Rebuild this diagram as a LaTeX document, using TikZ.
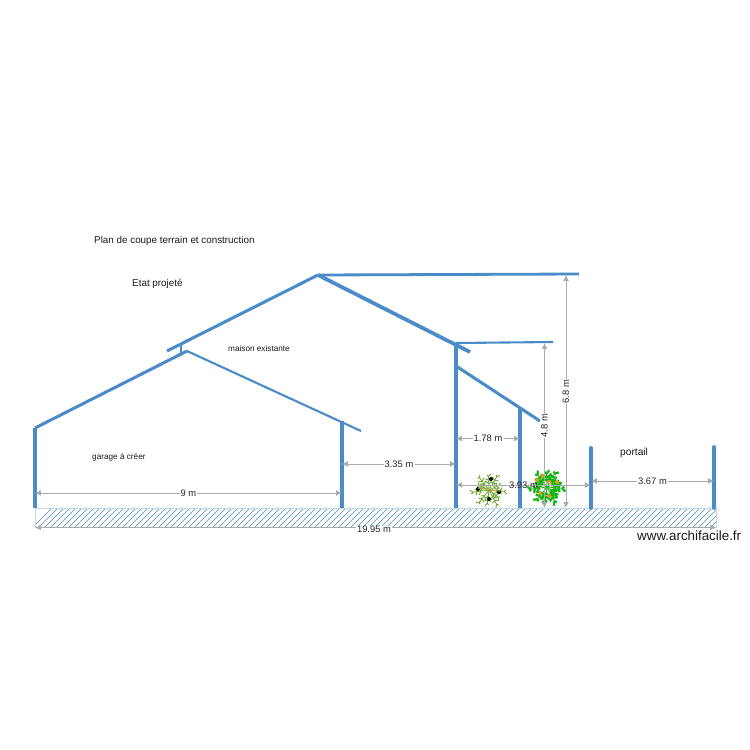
\documentclass[tikz,border=0pt]{standalone}
\usepackage{fontspec}
\setmainfont{Liberation Sans}
\usetikzlibrary{arrows.meta,calc}
\definecolor{wallblue}{HTML}{4A8CC8}
\definecolor{dimgray}{HTML}{ABABAB}
\definecolor{hatchblue}{HTML}{4F8DB5}
\definecolor{leafa}{HTML}{6BA82E}
\definecolor{leafb}{HTML}{14B414}
\definecolor{stema}{HTML}{B8A040}
\definecolor{fruit}{HTML}{E09A20}
\tikzset{
  x=0.03cm,y=-0.03cm,
  wall/.style={draw=wallblue,line width=3.3pt},
  roof/.style={draw=wallblue,line width=2.6pt},
  thickroof/.style={draw=wallblue,line width=3.2pt},
  flatroof/.style={draw=wallblue,line width=2.4pt},
  thinroof/.style={draw=wallblue,line width=1.8pt},
  dimline/.style={draw=dimgray,line width=0.85pt,{Latex[length=5pt,width=5pt]}-{Latex[length=5pt,width=5pt]}},
  dimlabel/.style={fill=white,inner sep=1pt,font=\fontsize{8}{9}\selectfont,text=black!85},
  caption/.style={inner sep=0pt,anchor=west,text=black!90},
}
\newcommand{\plant}[7]{% x, y, leaf colour, leaf width, leaf length, spot colour, spot list
  \begin{scope}[shift={(#1,#2)}]
    \foreach \a/\r in {5/16,38/12,62/17,97/14,128/16,172/17,204/11,232/16,268/14,300/16,335/12}{
      \draw[#3,line width=0.7pt] (0,0) -- (\a:\r);
      \foreach \t/\b/\c in {0.45/50/3,0.7/65/2.4,0.95/40/1}{
        \draw[#3,line width=#4] ($(0,0)+(\a:\t*\r)$) -- ++(\a+\b:#5);
        \draw[#3,line width=#4] ($(0,0)+(\a:\t*\r)$) -- ++(\a-\b:#5*\c/3+1);
      }
    }
    \foreach \p in {#7}{
      \fill[#6] \p circle (2);
    }
  \end{scope}
}
\begin{document}
\begin{tikzpicture}
\useasboundingbox (0,0) rectangle (750,750);
\fill[white] (0,0) rectangle (750,750);

% ground hatch
\begin{scope}
  \clip (35,508) rectangle (716,527);
  \foreach \i in {0,6,...,720}{
    \draw[hatchblue,line width=0.5pt] (30+\i,530) -- (55+\i,505);
  }
\end{scope}
\draw[wallblue!35,line width=0.4pt] (35,508) rectangle (716,527);

% named points
\coordinate (gL) at (35,508);
\coordinate (gLtop) at (35,428);
\coordinate (gApex) at (187,351);
\coordinate (gEave) at (361,431);
\coordinate (gW) at (342,508);
\coordinate (gWtop) at (342,421);
\coordinate (mW) at (456,508);
\coordinate (mWtop) at (456,343);
\coordinate (aW) at (520,508);
\coordinate (aWtop) at (520,409);
\coordinate (aRoofS) at (456,366);
\coordinate (aRoofE) at (540,421);
\coordinate (apex) at (318,275);
\coordinate (mEave) at (470,352);
\coordinate (mLeft) at (167,351);
\coordinate (topR) at (579,274);
\coordinate (midR) at (553,342);
\coordinate (stubT) at (181,343);
\coordinate (stubB) at (181,355);
\coordinate (p1) at (591,508);
\coordinate (p1t) at (591,448);
\coordinate (p2) at (714,508);
\coordinate (p2t) at (714,447);

% structure
\draw[wall] (gL) -- (gLtop);
\draw[roof] (gLtop) -- (gApex);
\draw[thinroof] (gApex) -- (gEave);
\draw[wall] (gW) -- (gWtop);
\draw[wall] (mW) -- (mWtop);
\draw[wall] (aW) -- (aWtop);
\draw[roof] (aRoofS) -- (aRoofE);
\draw[roof] (mLeft) -- (apex);
\draw[thickroof] (apex) -- (mEave);
\draw[flatroof] (apex) -- (topR);
\draw[thinroof] (mWtop) -- (midR);
\draw[flatroof] (stubT) -- (stubB);
\draw[wall,line cap=round] (p1) -- (p1t);
\draw[wall,line cap=round] (p2) -- (p2t);

% plants
\plant{489}{490}{leafa}{0.8pt}{3.5}{black}{(2,-11),(-11,-1),(10,2),(0,9)}
\draw[stema,line width=0.9pt] (478,488) -- (500,491);
\plant{547}{487}{leafb}{1.9pt}{4.5}{fruit}{(-10,-7),(-4,-11),(2,-5),(10,-5),(-7,6),(2,9)}

% dimensions
\draw[dimline] (35,493) -- node[dimlabel]{9 m} (342,493);
\draw[dimline] (342,464) -- node[dimlabel]{3.35 m} (456,464);
\draw[dimline] (456,438.5) -- node[dimlabel]{1.78 m} (520,438.5);
\draw[dimline] (456,485) -- node[dimlabel,fill=none]{3.93 m} (591,485);
\draw[dimline] (591,481) -- node[dimlabel]{3.67 m} (714,481);
\draw[dimline] (544.5,343) -- node[dimlabel,rotate=90]{4.8 m} (544.5,508);
\draw[dimline] (566,275) -- node[dimlabel,rotate=90]{6.8 m} (566,508);
\draw[dimline] (35,527.5) -- (716,527.5);
\node[dimlabel,inner ysep=0pt] (total) at (374,529) {19.95 m};

% captions
\node[caption,font=\fontsize{8.4}{10}\selectfont] (title) at (94,241) {Plan de coupe terrain et construction};
\node[caption,font=\fontsize{8.4}{10}\selectfont] (etat) at (132,284) {Etat projeté};
\node[caption,font=\fontsize{7}{8}\selectfont] (maison) at (228,349) {maison existante};
\node[caption,font=\fontsize{7}{8}\selectfont] (garage) at (92,457) {garage à créer};
\node[caption,font=\fontsize{8.7}{10}\selectfont] (portail) at (620,453) {portail};
\node[caption,font=\fontsize{11.4}{13}\selectfont] (site) at (637,536) {www.archifacile.fr};
\end{tikzpicture}
\end{document}
